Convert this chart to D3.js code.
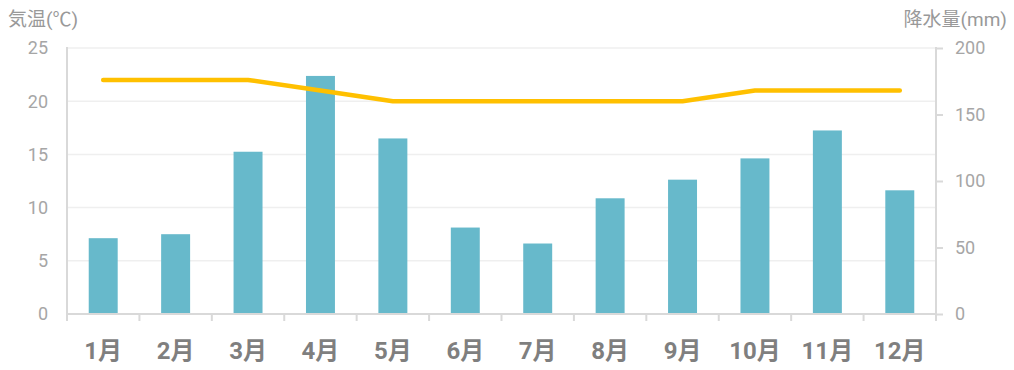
<!DOCTYPE html>
<html>
<head>
<meta charset="utf-8">
<script src="https://cdn.jsdelivr.net/npm/d3@7"></script>
<style>
  body { margin: 0; background: #fff; }
  svg text { font-family: Roboto, "Noto Sans CJK JP", sans-serif; }
</style>
</head>
<body>
<svg width="1014" height="370"></svg>
<script>
var months = ["1月","2月","3月","4月","5月","6月","7月","8月","9月","10月","11月","12月"];
var temps = [22, 22, 22, 21, 20, 20, 20, 20, 20, 21, 21, 21];
var rain = [57, 60, 122, 179, 132, 65, 53, 87, 101, 117, 138, 93];
var tempTicks = [0, 5, 10, 15, 20, 25];
var rainTicks = [0, 50, 100, 150, 200];

var svg = d3.select("svg"),
    plotL = 67, plotR = 936, plotT = 48, plotB = 314;

var x = d3.scaleBand().domain(months).range([plotL, plotR]).paddingInner(0.6).paddingOuter(0.3),
    xb = d3.scaleBand().domain(months).range([plotL, plotR]),
    yT = d3.scaleLinear().domain([0, 25]).range([plotB, plotT]),
    yR = d3.scaleLinear().domain([0, 200]).range([plotB, plotT]);

// grid lines
svg.append("g").selectAll("line")
    .data(tempTicks.filter(function(d) { return d > 0; }))
    .enter().append("line")
      .attr("x1", plotL).attr("x2", plotR)
      .attr("y1", function(d) { return yT(d); })
      .attr("y2", function(d) { return yT(d); })
      .attr("stroke", "#efefef")
      .attr("stroke-width", 1.5);

// bars
svg.append("g").selectAll("rect")
    .data(rain)
    .enter().append("rect")
      .attr("x", function(d, i) { return x(months[i]); })
      .attr("width", x.bandwidth())
      .attr("y", function(d) { return yR(d); })
      .attr("height", function(d) { return plotB - yR(d); })
      .attr("fill", "#67b9cb");

// x axis
var xAxis = svg.append("g").attr("transform", "translate(0," + plotB + ")");
xAxis.append("line").attr("x1", plotL).attr("x2", plotR + 1)
    .attr("stroke", "#d9d9d9").attr("stroke-width", 2);
xAxis.selectAll(".tk")
    .data(months.concat(["end"]))
    .enter().append("line")
      .attr("x1", function(d, i) { return i < 12 ? xb(d) : plotR; })
      .attr("x2", function(d, i) { return i < 12 ? xb(d) : plotR; })
      .attr("y1", 0).attr("y2", 7)
      .attr("stroke", "#d9d9d9").attr("stroke-width", 2);
xAxis.selectAll("text")
    .data(months)
    .enter().append("text")
      .attr("x", function(d) { return xb(d) + xb.bandwidth() / 2; })
      .attr("y", 45)
      .attr("text-anchor", "middle")
      .attr("fill", "#7f7f7f")
      .style("font-size", "24px")
      .style("font-weight", "bold")
      .text(function(d) { return d; });

// left axis
var yAxisL = svg.append("g");
yAxisL.append("line").attr("x1", plotL).attr("x2", plotL)
    .attr("y1", plotT - 1).attr("y2", plotB + 7)
    .attr("stroke", "#d9d9d9").attr("stroke-width", 2);
yAxisL.selectAll("text")
    .data(tempTicks)
    .enter().append("text")
      .attr("x", 48)
      .attr("y", function(d) { return yT(d); })
      .attr("dy", "0.36em")
      .attr("text-anchor", "end")
      .attr("fill", "#a6a6a6")
      .style("font-size", "18px")
      .text(function(d) { return d; });

// right axis
var yAxisR = svg.append("g").attr("transform", "translate(" + plotR + ",0)")
    .call(d3.axisRight(yR).tickValues(rainTicks).tickSize(7).tickPadding(12));
yAxisR.select(".domain").attr("stroke", "#d9d9d9").attr("stroke-width", 2)
    .attr("d", "M0," + (plotT - 1) + "V" + (plotB + 7));
yAxisR.selectAll(".tick line").attr("stroke", "#d9d9d9").attr("stroke-width", 2);
yAxisR.selectAll(".tick text")
    .attr("fill", "#a6a6a6")
    .style("font-size", "18px")
    .style("font-family", "Roboto, sans-serif");

// temperature line
var line = d3.line()
    .x(function(d, i) { return xb(months[i]) + xb.bandwidth() / 2; })
    .y(function(d) { return yT(d); });
svg.append("path")
    .datum(temps)
    .attr("d", line)
    .attr("fill", "none")
    .attr("stroke", "#ffc000")
    .attr("stroke-width", 4.5)
    .attr("stroke-linecap", "round")
    .attr("stroke-linejoin", "round");

// axis titles
svg.append("text").attr("x", 8).attr("y", 26)
    .attr("fill", "#999").style("font-size", "19px")
    .text("気温(℃)");
svg.append("text").attr("x", 1007).attr("y", 26)
    .attr("text-anchor", "end")
    .attr("fill", "#999").style("font-size", "19px")
    .text("降水量(mm)");
</script>
</body>
</html>
